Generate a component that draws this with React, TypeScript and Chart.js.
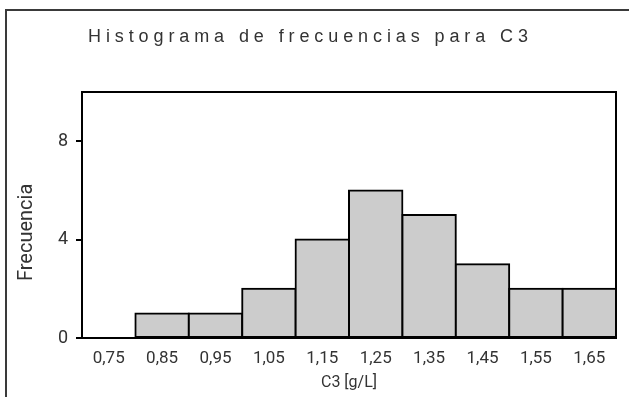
import React, { useEffect, useRef } from "react";
import { Chart, registerables } from "chart.js";

Chart.register(...registerables);

const categories = ["0,75", "0,85", "0,95", "1,05", "1,15", "1,25", "1,35", "1,45", "1,55", "1,65"];
const frequencies = [0, 1, 1, 2, 4, 6, 5, 3, 2, 2];
const yTickValues = [0, 4, 8];
const yMax = 10;
const chartTitle = "Histograma de frecuencias para C3";
const xAxisTitle = "C3 [g/L]";
const yAxisTitle = "Frecuencia";

const W = 629;
const H = 397;

const framePlugin = {
  id: "framePlugin",
  beforeDraw(chart: any) {
    const ctx = chart.ctx;
    ctx.save();
    ctx.fillStyle = "#ffffff";
    ctx.fillRect(0, 0, chart.width, chart.height);
    ctx.fillStyle = "#3a3a3a";
    ctx.fillRect(5, 9, 2, chart.height - 9);
    ctx.fillRect(5, 9, chart.width - 5, 2);
    ctx.restore();
  },
  afterDatasetsDraw(chart: any) {
    const { left, top, right, bottom } = chart.chartArea;
    const ctx = chart.ctx;
    ctx.save();
    ctx.strokeStyle = "#000000";
    ctx.lineWidth = 2;
    ctx.strokeRect(left, top, right - left, bottom - top);
    ctx.restore();
  },
};

const spacedTitlePlugin = {
  id: "spacedTitlePlugin",
  afterLayout(chart: any, _args: any, opts: any) {
    const tb = chart.titleBlock;
    if (!tb || tb.__spaced) return;
    const orig = tb.draw.bind(tb);
    tb.draw = function (...a: any[]) {
      const ctx = chart.ctx;
      ctx.save();
      ctx.translate((opts.x ?? 0) - tb.left, 0);
      (ctx as any).letterSpacing = opts.spacing ?? "0px";
      orig(...a);
      ctx.restore();
    };
    tb.__spaced = true;
  },
};

export default function App() {
  const ref = useRef<HTMLCanvasElement | null>(null);

  useEffect(() => {
    if (!ref.current) return;
    const chart = new Chart(ref.current, {
      type: "bar",
      data: {
        labels: categories,
        datasets: [
          {
            label: yAxisTitle,
            data: frequencies,
            backgroundColor: "#cccccc",
            borderColor: "#000000",
            borderWidth: 2,
            borderSkipped: false,
            inflateAmount: 1,
            barPercentage: 1,
            categoryPercentage: 1,
          },
        ],
      },
      options: {
        responsive: false,
        animation: false,
        devicePixelRatio: 1,
        layout: { padding: { left: 0, right: 13, top: 0, bottom: 0 } },
        plugins: {
          legend: { display: false },
          tooltip: { enabled: false },
          title: {
            display: true,
            text: chartTitle,
            align: "start",
            color: "#333333",
            font: { family: "'Liberation Sans', Arial, sans-serif", size: 18, weight: "normal" },
            padding: { top: 26, bottom: 44.4 },
          },
          spacedTitlePlugin: { x: 88, spacing: "4.9px" },
        } as any,
        scales: {
          x: {
            type: "category",
            grid: { display: false, drawTicks: false },
            border: { display: false },
            ticks: {
              color: "#333333",
              font: { family: "Roboto, sans-serif", size: 17 },
              padding: 11,
              maxRotation: 0,
              autoSkip: false,
            },
            title: {
              display: true,
              text: xAxisTitle,
              color: "#333333",
              font: { family: "Roboto, sans-serif", size: 16 },
              padding: { top: 0, bottom: 4 },
            },
            afterFit(scale: any) {
              scale.height = 59;
            },
          },
          y: {
            type: "linear",
            min: 0,
            max: yMax,
            grid: {
              display: true,
              drawOnChartArea: false,
              drawTicks: true,
              tickLength: 6,
              color: "#000000",
              lineWidth: 2,
            },
            border: { display: false },
            afterBuildTicks(scale: any) {
              scale.ticks = yTickValues.map((v) => ({ value: v }));
            },
            ticks: {
              color: "#333333",
              font: { family: "Roboto, sans-serif", size: 18 },
              padding: 8,
            },
            title: {
              display: true,
              text: yAxisTitle + "       ",
              color: "#333333",
              font: { family: "Roboto, sans-serif", size: 20 },
              padding: { top: 15, bottom: 0 },
            },
            afterFit(scale: any) {
              scale.width = 82;
            },
          },
        },
      },
      plugins: [framePlugin, spacedTitlePlugin],
    });
    return () => chart.destroy();
  }, []);

  return (
    <canvas
      ref={ref}
      width={W}
      height={H}
      style={{ position: "absolute", left: 0, top: 0, width: W, height: H, display: "block" }}
    />
  );
}
